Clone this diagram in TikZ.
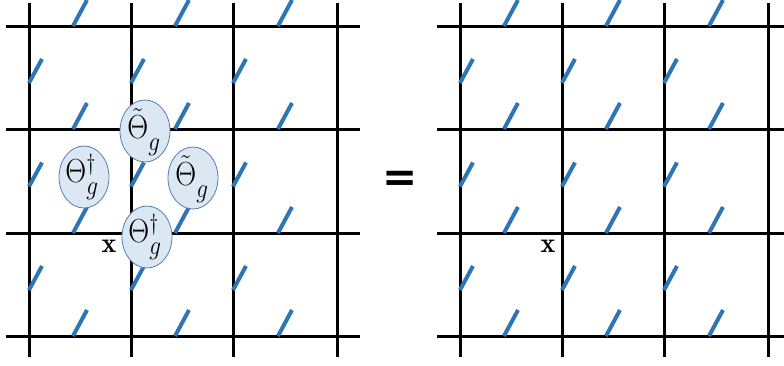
\RequirePackage{fix-cm}
\documentclass[tikz,border=0pt]{standalone}
\usepackage{fontspec}
\newfontfamily\eqfont{DejaVu Sans}
\usetikzlibrary{shapes.geometric}
\definecolor{tickblue}{RGB}{46,117,182}
\definecolor{bubblefill}{RGB}{220,231,244}
\definecolor{bubbleedge}{RGB}{84,126,176}
\tikzset{
  gridline/.style={line width=3pt, black},
  spin/.style={line width=4pt, tickblue},
  bubble/.style={ellipse, fill=bubblefill, draw=bubbleedge, line width=0.8pt,
    minimum width=50pt, minimum height=62pt, inner sep=0pt},
  optext/.style={inner sep=0pt, font=\fontsize{29}{34}\selectfont},
  sitelabel/.style={inner sep=0pt, font=\fontsize{28}{32}\selectfont},
}
\newcommand{\gsub}[1]{\raisebox{#1}{\scalebox{0.8}{$g$}}}
\begin{document}
\begin{tikzpicture}[x=1pt,y=-1pt]
\useasboundingbox (0,0) rectangle (784,365);
\foreach \gx in {0,431}{
  \foreach \y in {26,129,233,336}
    \draw[gridline] (\gx+6,\y) -- (\gx+360,\y);
  \foreach \x in {29,131,233,337}
    \draw[gridline] (\gx+\x,3) -- (\gx+\x,357);
  \foreach \y in {26,129,233,336}
    \foreach \a/\b in {29/131,131/233,233/337}
      \draw[spin] ({\gx+(\a+\b)/2-7},\y) -- ++(14,-26);
  \foreach \x in {29,131,233}
    \foreach \a/\b in {26/129,129/233,233/336}
      \draw[spin] (\gx+\x,{(\a+\b)/2+5.5}) -- ++(13,-24);
}
% operators
\node[bubble] (top) at (145,131) {};
\node[optext] (toptext) at ([xshift=-1pt,yshift=-1pt]top.center) {\scalebox{1}[1.15]{$\tilde\Theta_{\gsub{-6pt}}$}};
\node[bubble] (left) at (84,177) {};
\node[optext] (lefttext) at ([xshift=-2pt]left.center) {\scalebox{1}[1.15]{$\Theta^{\dagger}_{\gsub{-4pt}}$}};
\node[bubble] (right) at (193,178) {};
\node[optext] (righttext) at ([xshift=-1pt,yshift=-1pt]right.center) {\scalebox{1}[1.15]{$\tilde\Theta_{\gsub{-6pt}}$}};
\node[bubble] (bottom) at (147,237) {};
\node[optext] (bottomtext) at ([xshift=-2pt]bottom.center) {\scalebox{1}[1.15]{$\Theta^{\dagger}_{\gsub{-4pt}}$}};
% site labels
\node[sitelabel] (xl) at (109,246) {$\mathbf{x}$};
\node[sitelabel] (xr) at (548,246) {$\mathbf{x}$};
% equals
\node[inner sep=0pt, font=\eqfont\bfseries\fontsize{42}{48}\selectfont] (eq) at (400,181) {=};
\end{tikzpicture}
\end{document}
